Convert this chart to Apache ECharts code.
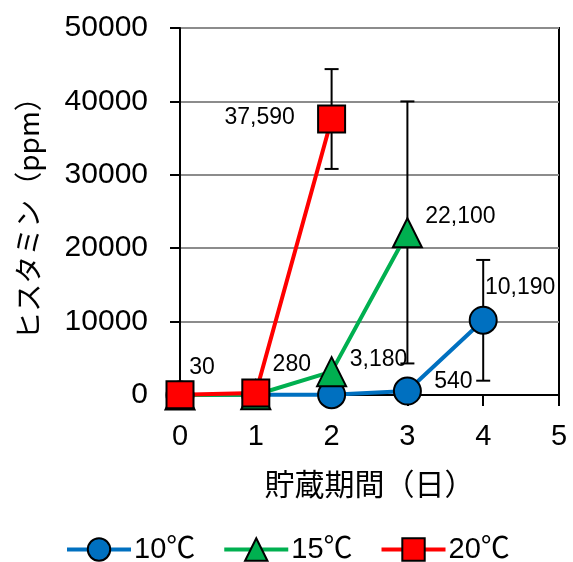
<!DOCTYPE html>
<html>
<head>
<meta charset="utf-8">
<script src="https://cdn.jsdelivr.net/npm/echarts@6/dist/echarts.min.js"></script>
<style>
  html, body { margin: 0; padding: 0; background: #fff; }
  #chart { width: 573px; height: 562px; }
</style>
</head>
<body>
<div id="chart"></div>
<script>
// Storage days and histamine content (ppm) per storage temperature
const days10 = [0, 1, 2, 3, 4];
const values10 = [10, 20, 40, 540, 10190];
const days15 = [0, 1, 2, 3];
const values15 = [10, 30, 3180, 22100];
const days20 = [0, 1, 2];
const values20 = [30, 280, 37590];

// Error bars: day, lower bound, upper bound
const err10 = [[4, 1950, 18400]];
const err15 = [[3, 4300, 40000]];
const err20 = [[2, 30800, 44400]];

const seriesNames = ['10℃', '15℃', '20℃'];
const xTicks = [0, 1, 2, 3, 4, 5];
const yTicks = [0, 10000, 20000, 30000, 40000, 50000];

// Which points carry a value label, and where the label sits relative to the marker
const labelOffsets10 = { 3: [46, -9], 4: [37, -33] };
const labelOffsets15 = { 2: [47, -12], 3: [53, -16] };
const labelOffsets20 = { 0: [22, -27], 1: [36, -28], 2: [-72, -1] };

const LATIN = "'Liberation Sans', Arial, 'Noto Sans CJK JP', sans-serif";
const CJK = "'Noto Sans CJK JP', 'Liberation Sans', sans-serif";

function fmt(v) {
  return v.toLocaleString('en-US');
}

function buildData(days, values, offsets) {
  return days.map((d, i) => {
    const item = { value: [d, values[i]] };
    if (offsets[i]) {
      item.label = {
        show: true,
        position: 'inside',
        offset: offsets[i],
        formatter: fmt(values[i]),
        color: '#000',
        fontSize: 23,
        fontFamily: LATIN
      };
    }
    return item;
  });
}

function errorSeries(data) {
  return {
    type: 'custom',
    z: 1,
    silent: true,
    data: data,
    encode: { x: 0, y: [1, 2] },
    renderItem: function (params, api) {
      const x = api.value(0);
      const lo = api.coord([x, api.value(1)]);
      const hi = api.coord([x, api.value(2)]);
      const half = 7;
      const style = { stroke: '#000', lineWidth: 2 };
      return {
        type: 'group',
        children: [
          { type: 'line', shape: { x1: lo[0], y1: lo[1], x2: hi[0], y2: hi[1] }, style: style },
          { type: 'line', shape: { x1: lo[0] - half, y1: lo[1], x2: lo[0] + half, y2: lo[1] }, style: style },
          { type: 'line', shape: { x1: hi[0] - half, y1: hi[1], x2: hi[0] + half, y2: hi[1] }, style: style }
        ]
      };
    }
  };
}

function lineSeries(name, color, symbol, size, data) {
  return {
    name: name,
    type: 'line',
    z: 3,
    data: data,
    symbol: symbol,
    symbolSize: size,
    showAllSymbol: true,
    lineStyle: { color: color, width: 4 },
    itemStyle: { color: color, borderColor: '#000', borderWidth: 2 },
    label: { show: false },
    emphasis: { disabled: true },
    animation: false
  };
}

const chart = echarts.init(document.getElementById('chart'), null, { renderer: 'canvas' });

chart.setOption({
  animation: false,
  backgroundColor: '#fff',
  grid: {
    left: 180, right: 14, top: 28, bottom: 167,
    show: true, borderColor: '#000', borderWidth: 2, backgroundColor: 'transparent'
  },
  legend: {
    data: seriesNames,
    left: 60,
    top: 530,
    itemWidth: 64,
    itemHeight: 28,
    itemGap: 27,
    lineStyle: { width: 4 },
    itemStyle: { borderColor: '#000', borderWidth: 2 },
    textStyle: { fontSize: 29, color: '#000', fontFamily: LATIN, padding: [6, 0, 0, -2] },
    selectedMode: false
  },
  xAxis: {
    type: 'value',
    min: xTicks[0],
    max: xTicks[xTicks.length - 1],
    interval: 1,
    name: '貯蔵期間（日）',
    nameLocation: 'middle',
    nameGap: 74,
    nameTextStyle: { fontSize: 30, color: '#000', fontFamily: CJK },
    axisLine: { onZero: false, lineStyle: { color: '#000', width: 2 } },
    axisTick: { show: true, inside: false, length: 11, lineStyle: { color: '#000', width: 2 } },
    axisLabel: { fontSize: 29, color: '#000', margin: 27, fontFamily: "'Liberation Sans Narrow', " + LATIN },
    splitLine: { show: false }
  },
  yAxis: {
    type: 'value',
    min: yTicks[0],
    max: yTicks[yTicks.length - 1],
    interval: 10000,
    name: 'ヒスタミン（ppm）',
    nameLocation: 'middle',
    nameGap: 138,
    nameRotate: 90,
    nameTextStyle: { fontSize: 28, color: '#000', fontFamily: CJK },
    axisLine: { onZero: false, lineStyle: { color: '#000', width: 2 } },
    axisTick: { show: true, inside: false, length: 10, lineStyle: { color: '#000', width: 2 } },
    axisLabel: { fontSize: 30, color: '#000', margin: 32, fontFamily: LATIN, formatter: v => String(v) },
    splitLine: { show: true, lineStyle: { color: '#8c8c8c', width: 2 } }
  },
  series: [
    errorSeries(err10),
    errorSeries(err15),
    errorSeries(err20),
    lineSeries(seriesNames[0], '#0070C0', 'circle', 27, buildData(days10, values10, labelOffsets10)),
    lineSeries(seriesNames[1], '#00B050', 'triangle', 29, buildData(days15, values15, labelOffsets15)),
    lineSeries(seriesNames[2], '#FF0000', 'rect', 27, buildData(days20, values20, labelOffsets20))
  ]
});
</script>
</body>
</html>
